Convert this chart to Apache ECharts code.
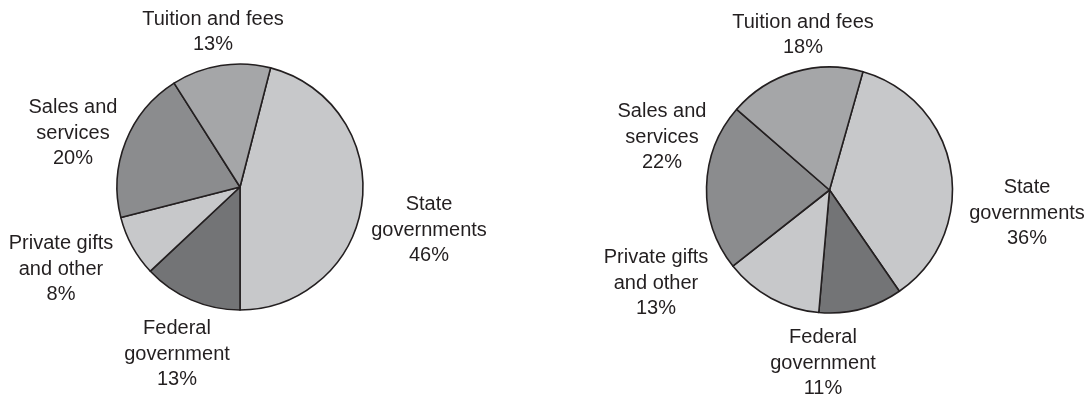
<!DOCTYPE html>
<html>
<head>
<meta charset="utf-8">
<style>
  html, body { margin: 0; padding: 0; background: #ffffff; }
  #chart { width: 1091px; height: 397px; }
</style>
<script src="https://cdn.jsdelivr.net/npm/echarts@6/dist/echarts.min.js"></script>
</head>
<body>
<div id="chart"></div>
<script>
// Revenue sources, percent of total, listed clockwise from the State slice
const categories = [
  'State\ngovernments',
  'Federal\ngovernment',
  'Private gifts\nand other',
  'Sales and\nservices',
  'Tuition and fees'
];
const sharesLeft = [46, 13, 8, 20, 13];
const sharesRight = [36, 11, 13, 22, 18];

// Slice fills, same order as categories
const sliceColors = ['#c7c8ca', '#737476', '#c7c8ca', '#8b8c8e', '#a5a6a8'];

// Where each label block is centred (pixels), same order as categories
const labelSpotsLeft = [[429, 230], [177, 354], [61, 269], [73, 133], [213, 32]];
const labelSpotsRight = [[1027, 213], [823, 363], [656, 283], [662, 137], [803, 35]];

const chart = echarts.init(document.getElementById('chart'), null, { renderer: 'canvas' });

function pieSeries(values, center, startAngle) {
  return {
    type: 'pie',
    center: center,
    radius: 123,
    startAngle: startAngle,
    clockwise: true,
    silent: true,
    animation: false,
    avoidLabelOverlap: false,
    data: categories.map((name, i) => ({
      name: name,
      value: values[i],
      itemStyle: { color: sliceColors[i] }
    })),
    itemStyle: { borderColor: '#231f20', borderWidth: 1.6 },
    label: {
      show: true,
      position: 'outside',
      formatter: p => p.name + '\n' + p.value + '%',
      fontFamily: '"Liberation Sans", Arial, sans-serif',
      fontSize: 20,
      lineHeight: 25.5,
      color: '#231f20',
      align: 'center'
    },
    labelLine: { show: false },
    emphasis: { disabled: true }
  };
}

const spots = [labelSpotsLeft, labelSpotsRight];

chart.setOption({
  backgroundColor: '#ffffff',
  animation: false,
  series: [
    pieSeries(sharesLeft, [240, 187], 75.6),
    pieSeries(sharesRight, [829.5, 190], 74.2)
  ].map((s, k) => Object.assign(s, {
    labelLayout: function (params) {
      const pt = spots[k][params.dataIndex];
      return { x: pt[0], y: pt[1], align: 'center', verticalAlign: 'middle' };
    }
  }))
});
</script>
</body>
</html>
